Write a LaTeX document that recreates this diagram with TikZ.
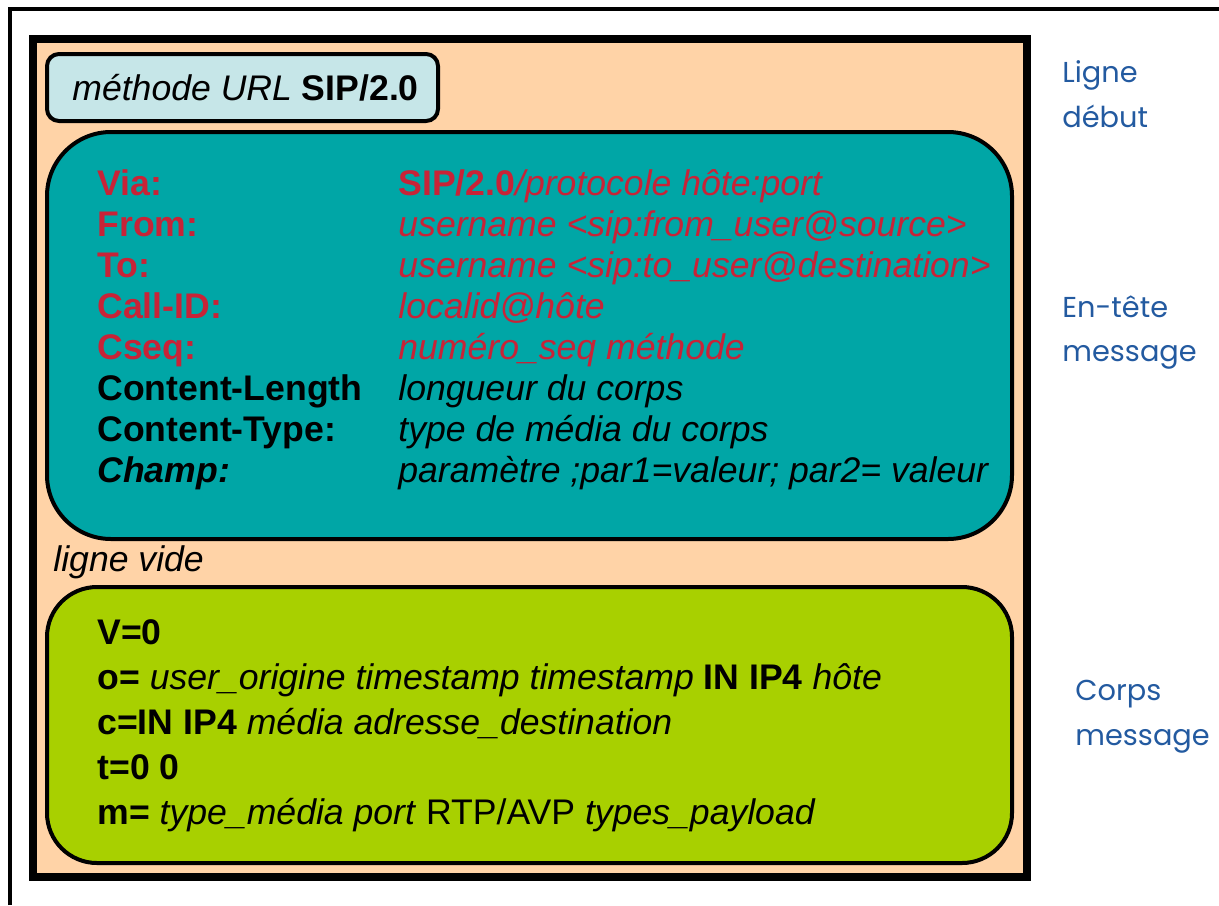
\documentclass[tikz,border=0pt]{standalone}
\usepackage{fontspec}
\setmainfont{Liberation Sans}
\newfontfamily\sidefont{Poppins}
\definecolor{peach}{RGB}{255,211,167}
\definecolor{paleblue}{RGB}{198,230,232}
\definecolor{teal}{RGB}{0,166,166}
\definecolor{lime}{RGB}{168,208,0}
\definecolor{sipred}{RGB}{200,35,55}
\definecolor{sideblue}{RGB}{35,90,160}
\tikzset{
  field/.style={anchor=base west, inner sep=0pt, font=\fontsize{17.8}{21}\selectfont},
  redfield/.style={field, text=sipred},
  side/.style={anchor=base west, inner sep=0pt, text=sideblue, font=\sidefont\fontsize{14.4}{18}\selectfont},
  bloc/.style={draw=black, line width=2pt}
}
\begin{document}
\begin{tikzpicture}[x=0.5pt,y=-0.5pt]
\useasboundingbox (0,0) rectangle (1219,905);

% cadre
\draw[line width=2pt] (10,905) -- (10,8.5) -- (1219,8.5);

% message
\draw[draw=black, line width=4pt, fill=peach] (33,39) rectangle (1027,877);
\draw[bloc, fill=paleblue, rounded corners=6pt] (47,54) rectangle (438,121);
\draw[bloc, fill=teal, rounded corners=32pt] (47,132) rectangle (1012,539);
\draw[bloc, fill=lime, rounded corners=25pt] (47,587) rectangle (1012,863);

% ligne debut
\node [field](debut) at (72,100) {\textit{méthode URL} \textbf{SIP/2.0}};

% en-tete
\node [redfield](via) at (97,195) {\textbf{Via:}};
\node [redfield](from) at (97,236) {\textbf{From:}};
\node [redfield](to) at (97,277) {\textbf{To:}};
\node [redfield](callid) at (97,318) {\textbf{Call-ID:}};
\node [redfield](cseq) at (97,359) {\textbf{Cseq:}};
\node [field](clength) at (97,400) {\textbf{Content-Length}};
\node [field](ctype) at (97,441) {\textbf{Content-Type:}};
\node [field](champ) at (97,482) {\textbf{\textit{Champ:}}};

\node [redfield](viaval) at (398,195) {\textbf{SIP/2.0}\textit{/protocole hôte:port}};
\node [redfield](fromval) at (398,236) {\textit{username <sip:from\_user@source>}};
\node [redfield](toval) at (398,277) {\textit{username <sip:to\_user@destination>}};
\node [redfield](callidval) at (398,318) {\textit{localid@hôte}};
\node [redfield](cseqval) at (398,359) {\textit{numéro\_seq méthode}};
\node [field](clengthval) at (398,400) {\textit{longueur du corps}};
\node [field](ctypeval) at (398,441) {\textit{type de média du corps}};
\node [field](champval) at (398,482) {\textit{paramètre ;par1=valeur; par2= valeur}};

\node [field](vide) at (53,571) {\textit{ligne vide}};

% corps
\node [field](sdpv) at (97,644) {\textbf{V=0}};
\node [field](sdpo) at (97,689) {\textbf{o=} \textit{user\_origine timestamp timestamp} \textbf{IN IP4} \textit{hôte}};
\node [field](sdpc) at (97,734) {\textbf{c=IN IP4} \textit{média adresse\_destination}};
\node [field](sdpt) at (97,779) {\textbf{t=0 0}};
\node [field](sdpm) at (97,824) {\textbf{m=} \textit{type\_média port} RTP/AVP \textit{types\_payload}};

% legendes
\node [side](ligne1) at (1062,82) {Ligne};
\node [side](ligne2) at (1062,127) {début};
\node [side](entete1) at (1062,317) {En-tête};
\node [side](entete2) at (1062,361) {message};
\node [side](corps1) at (1075,700) {Corps};
\node [side](corps2) at (1075,745) {message};
\end{tikzpicture}
\end{document}
